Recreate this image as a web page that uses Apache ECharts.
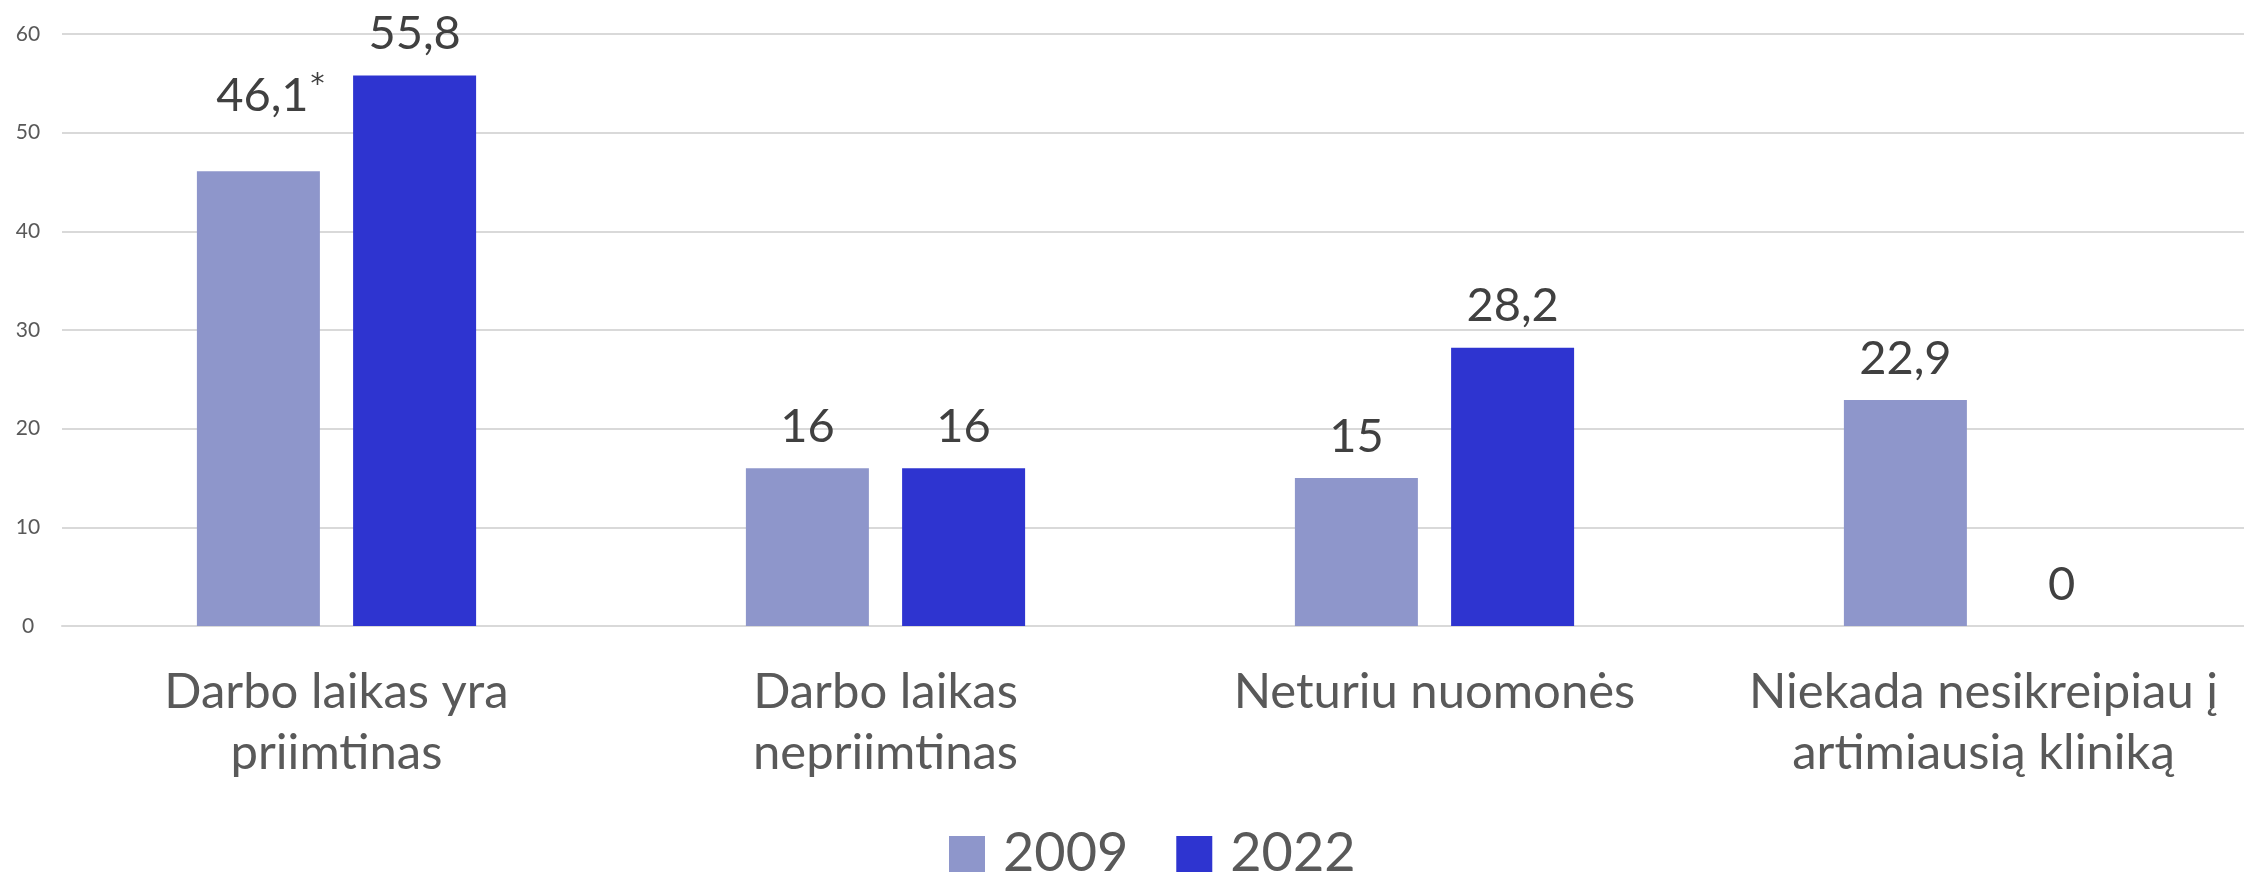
<!DOCTYPE html>
<html>
<head>
<meta charset="utf-8">
<script src="https://cdn.jsdelivr.net/npm/echarts@6/dist/echarts.min.js"></script>
<style>
  html, body { margin: 0; padding: 0; background: #fff; }
  #main { width: 2244px; height: 878px; }
</style>
</head>
<body>
<div id="main"></div>
<script>
// chart data
var categories = ['Darbo laikas yra\npriimtinas', 'Darbo laikas\nnepriimtinas', 'Neturiu nuomonės', 'Niekada nesikreipiau į\nartimiausią kliniką'];
var years = ['2009', '2022'];
var values2009 = [46.1, 16, 15, 22.9];
var values2022 = [55.8, 16, 28.2, 0];
var notes2009 = ['*', '', '', ''];
var yTicks = [0, 10, 20, 30, 40, 50, 60];

var colors = ['#8E96CB', '#2E34D0'];
var font = 'Lato';

function fmt(v) {
    return String(v).replace('.', ',');
}

var chartDom = document.getElementById('main');
var myChart = echarts.init(chartDom);

var labelOption = {
    show: true,
    position: 'top',
    distance: 18,
    fontFamily: font,
    fontSize: 47,
    color: '#404040',
    formatter: function (p) { return fmt(p.value); }
};

// 2009 items, the noted one gets a superscript mark
var data2009 = values2009.map(function (v, i) {
    if (!notes2009[i]) return v;
    return {
        value: v,
        label: {
            formatter: '{v|' + fmt(v) + '}{sup|' + notes2009[i] + '}',
            offset: [12, -34],
            rich: {
                v: { fontFamily: font, fontSize: 47, color: '#404040' },
                sup: { fontFamily: 'DejaVu Sans', fontSize: 28, color: '#404040', verticalAlign: 'top', padding: [0, 0, 0, 2] }
            }
        }
    };
});

var option = {
    animation: false,
    backgroundColor: '#fff',
    color: colors,
    grid: {
        left: 62,
        top: 34,
        width: 2196,
        bottom: 252,
        containLabel: false,
        outerBoundsMode: 'none'
    },
    legend: {
        data: years,
        left: 949,
        top: 827,
        padding: 0,
        itemWidth: 36,
        itemHeight: 36,
        itemGap: 48,
        icon: 'rect',
        textStyle: {
            fontFamily: font,
            fontSize: 54,
            lineHeight: 54,
            color: '#595959',
            padding: [0, 0, 0, 13]
        }
    },
    xAxis: {
        type: 'category',
        data: categories,
        axisTick: { show: false },
        axisLine: { lineStyle: { color: '#D9D9D9', width: 2 } },
        axisLabel: {
            interval: 0,
            margin: 36,
            fontFamily: font,
            fontSize: 49,
            lineHeight: 61,
            color: '#595959'
        }
    },
    yAxis: {
        type: 'value',
        min: yTicks[0],
        max: yTicks[yTicks.length - 1],
        interval: yTicks[1] - yTicks[0],
        axisLine: { show: false },
        axisTick: { show: false },
        splitLine: { lineStyle: { color: '#D9D9D9', width: 2 } },
        axisLabel: {
            margin: 34,
            align: 'center',
            fontFamily: font,
            fontSize: 21,
            color: '#595959'
        }
    },
    series: [
        {
            name: years[0],
            type: 'bar',
            barWidth: 123,
            barGap: '27%',
            label: labelOption,
            data: data2009
        },
        {
            name: years[1],
            type: 'bar',
            barWidth: 123,
            label: labelOption,
            data: values2022
        }
    ]
};

myChart.setOption(option);
</script>
</body>
</html>
